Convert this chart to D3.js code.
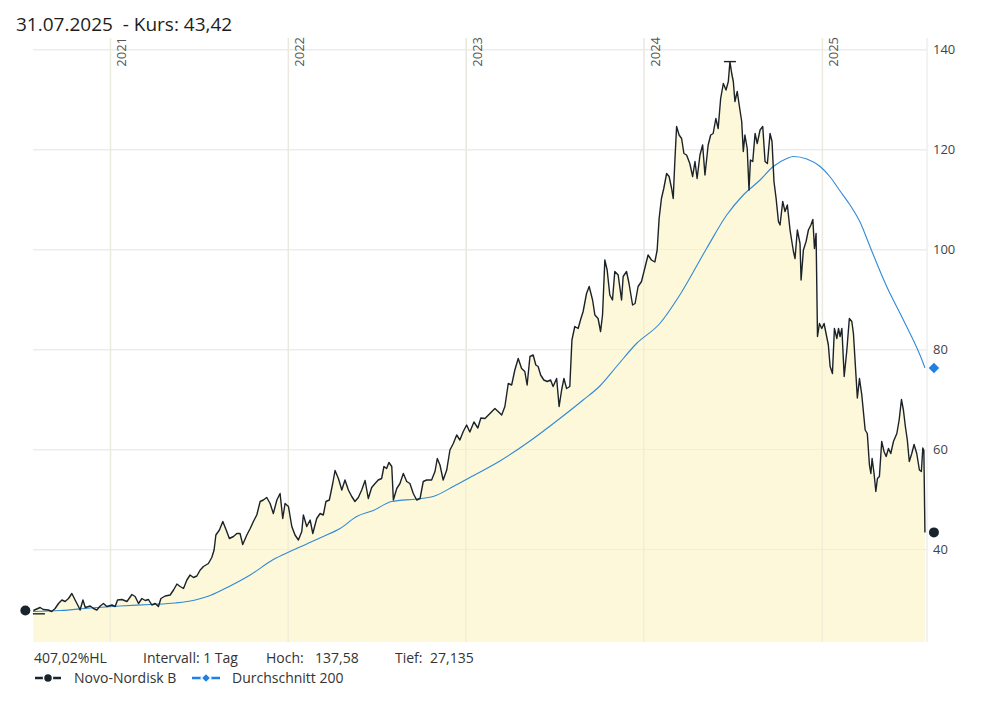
<!DOCTYPE html>
<html><head><meta charset="utf-8">
<script src="https://cdn.jsdelivr.net/npm/d3@7"></script>
<style>
body{margin:0;background:#fff}
svg text{font-family:"Open Sans","Noto Sans",sans-serif}
</style></head>
<body><svg id="c" width="999" height="701"></svg>
<script>
// ---- data (dates as decimal years) ----
const priceT = [2020.569,2020.607,2020.625,2020.653,2020.672,2020.691,2020.710,2020.729,2020.747,2020.766,2020.785,2020.803,2020.822,2020.831,2020.847,2020.860,2020.888,2020.906,2020.925,2020.944,2020.962,2020.981,2021.010,2021.028,2021.041,2021.066,2021.094,2021.122,2021.140,2021.159,2021.178,2021.197,2021.215,2021.234,2021.253,2021.271,2021.285,2021.309,2021.337,2021.356,2021.375,2021.393,2021.412,2021.431,2021.449,2021.468,2021.487,2021.506,2021.524,2021.552,2021.571,2021.584,2021.594,2021.614,2021.633,2021.652,2021.670,2021.693,2021.712,2021.730,2021.745,2021.768,2021.787,2021.805,2021.824,2021.843,2021.861,2021.880,2021.899,2021.917,2021.937,2021.955,2021.970,2021.983,2022.002,2022.021,2022.039,2022.058,2022.077,2022.086,2022.105,2022.124,2022.139,2022.161,2022.180,2022.198,2022.213,2022.232,2022.251,2022.264,2022.283,2022.302,2022.320,2022.339,2022.358,2022.376,2022.395,2022.414,2022.433,2022.451,2022.470,2022.489,2022.507,2022.526,2022.539,2022.554,2022.567,2022.583,2022.592,2022.611,2022.629,2022.648,2022.667,2022.685,2022.704,2022.723,2022.742,2022.760,2022.779,2022.807,2022.826,2022.839,2022.854,2022.872,2022.892,2022.910,2022.929,2022.948,2022.966,2022.985,2023.004,2023.022,2023.045,2023.067,2023.084,2023.107,2023.135,2023.163,2023.181,2023.201,2023.219,2023.238,2023.257,2023.275,2023.294,2023.313,2023.331,2023.344,2023.360,2023.378,2023.393,2023.406,2023.420,2023.438,2023.457,2023.476,2023.490,2023.510,2023.524,2023.538,2023.551,2023.566,2023.584,2023.596,2023.612,2023.631,2023.644,2023.659,2023.678,2023.693,2023.712,2023.725,2023.743,2023.757,2023.768,2023.781,2023.794,2023.809,2023.824,2023.837,2023.856,2023.875,2023.884,2023.903,2023.917,2023.937,2023.951,2023.968,2023.987,2024.006,2024.024,2024.043,2024.062,2024.075,2024.086,2024.099,2024.112,2024.128,2024.142,2024.156,2024.165,2024.174,2024.184,2024.198,2024.212,2024.225,2024.240,2024.258,2024.274,2024.287,2024.299,2024.315,2024.330,2024.343,2024.361,2024.375,2024.389,2024.404,2024.417,2024.431,2024.446,2024.461,2024.474,2024.483,2024.493,2024.502,2024.511,2024.524,2024.535,2024.549,2024.558,2024.567,2024.580,2024.590,2024.598,2024.611,2024.624,2024.636,2024.652,2024.667,2024.680,2024.693,2024.708,2024.719,2024.730,2024.742,2024.755,2024.764,2024.779,2024.792,2024.805,2024.820,2024.839,2024.848,2024.861,2024.876,2024.882,2024.895,2024.910,2024.923,2024.937,2024.948,2024.957,2024.966,2024.974,2024.985,2024.998,2025.011,2025.022,2025.035,2025.045,2025.058,2025.069,2025.083,2025.092,2025.101,2025.111,2025.124,2025.139,2025.153,2025.167,2025.176,2025.185,2025.198,2025.210,2025.223,2025.242,2025.254,2025.266,2025.274,2025.281,2025.292,2025.302,2025.311,2025.322,2025.335,2025.348,2025.360,2025.373,2025.386,2025.401,2025.420,2025.433,2025.446,2025.457,2025.468,2025.479,2025.490,2025.504,2025.517,2025.532,2025.547,2025.558,2025.566,2025.572,2025.578];
const priceV = [27.8,28.4,28.0,27.9,27.6,28.2,29.2,29.9,29.6,30.2,31.2,29.9,28.6,27.9,29.9,28.4,28.7,28.2,27.9,28.7,29.2,28.6,28.9,28.6,29.9,30.0,29.6,31.0,30.6,29.2,30.2,29.8,30.0,28.9,29.2,28.6,30.2,30.7,30.9,31.9,33.1,32.6,32.2,33.9,34.9,34.4,34.7,35.9,36.6,37.2,38.4,39.9,42.9,43.9,45.6,43.9,42.2,42.6,43.2,43.2,41.0,42.9,44.2,45.6,46.9,49.6,49.9,50.4,49.2,47.2,49.9,51.2,46.2,49.2,48.6,44.6,42.9,41.9,43.6,46.9,44.6,45.9,43.2,46.2,47.2,46.9,49.6,49.9,53.2,55.8,54.2,51.9,53.9,51.9,50.6,49.6,50.4,51.9,53.8,50.2,52.4,53.2,53.9,54.2,56.6,56.2,57.4,56.6,49.9,52.2,53.2,55.2,53.6,53.2,51.2,49.9,50.2,53.6,53.9,53.9,55.6,58.2,56.9,53.9,55.9,59.9,61.2,62.9,61.9,63.6,64.9,63.5,65.5,64.3,66.3,66.2,67.2,68.2,67.6,66.9,68.6,73.2,72.9,75.9,78.2,76.2,75.6,72.9,78.6,78.9,76.9,76.6,74.9,73.9,73.6,73.9,72.6,74.2,68.6,71.9,74.2,72.2,72.6,81.9,84.6,84.2,85.9,87.6,91.2,92.6,89.9,86.9,86.2,83.6,86.9,97.9,95.9,90.9,89.9,95.6,94.9,89.9,94.6,95.6,93.2,88.9,89.2,92.6,93.6,96.3,98.9,97.9,97.5,99.9,106.2,110.2,112.2,115.2,114.6,112.2,110.2,117.6,124.6,122.9,122.2,119.2,118.9,117.2,114.6,117.6,114.2,118.9,120.9,114.9,120.9,122.9,123.2,126.2,124.2,130.2,133.2,131.9,133.6,137.58,135.2,133.6,129.6,131.6,128.9,125.6,119.6,122.9,120.2,111.9,117.9,117.6,123.2,121.2,123.9,124.6,117.6,117.2,123.2,121.6,113.6,110.2,105.6,104.9,109.6,107.6,108.9,103.9,99.6,98.2,103.9,101.2,93.9,99.9,101.6,103.9,104.9,106.0,100.2,103.2,82.6,85.2,84.2,85.2,83.2,80.9,76.6,75.2,84.2,82.2,84.2,82.6,84.2,74.6,79.9,86.2,85.6,83.2,77.9,70.3,74.2,70.9,63.9,63.2,56.9,55.2,58.2,55.2,51.6,54.2,54.6,61.6,59.6,58.6,60.2,59.2,61.6,63.2,65.9,70.0,67.9,64.6,61.9,57.6,59.2,61.0,59.2,55.9,55.6,60.3,59.8,43.42];

const maT = [2020.567,2020.719,2020.888,2021.056,2021.225,2021.365,2021.478,2021.562,2021.674,2021.787,2021.917,2022.011,2022.105,2022.198,2022.292,2022.386,2022.479,2022.583,2022.723,2022.816,2022.929,2023.022,2023.191,2023.360,2023.528,2023.659,2023.753,2023.847,2023.959,2024.090,2024.202,2024.352,2024.465,2024.558,2024.652,2024.726,2024.802,2024.839,2024.914,2024.989,2025.045,2025.101,2025.157,2025.213,2025.270,2025.363,2025.457,2025.569,2025.578];
const maV = [27.6,27.8,28.3,28.7,29.0,29.3,29.9,30.8,32.7,34.9,38.0,39.6,41.1,42.6,44.2,46.6,47.8,49.6,50.1,50.6,52.6,54.4,57.7,61.7,66.2,69.9,72.7,76.6,81.2,85.2,90.9,100.2,106.9,110.9,113.9,116.6,118.2,118.6,118.1,116.6,114.5,111.7,108.9,105.5,100.5,92.6,85.9,77.2,76.3];

const yearTicks = [2021, 2022, 2023, 2024, 2025];
const yearLabels = ["2021", "2022", "2023", "2024", "2025"];
const valueTicks = [40, 60, 80, 100, 120, 140];
const domainT = [2020.567, 2025.584];
const domainV = [21.5, 142.5];
const hiValue = 137.58, hiT = 2024.483;
const loValue = 27.135, loT = 2020.600;
const titleText = "31.07.2025  - Kurs: 43,42";
const infoTexts = ["407,02%HL", "Intervall: 1 Tag", "Hoch:", "137,58", "Tief:", "27,135"];
const legendNames = ["Novo-Nordisk B", "Durchschnitt 200"];

// ---- helpers ----
function toDate(t){
  const y = Math.floor(t);
  const a = Date.UTC(y,0,1), b = Date.UTC(y+1,0,1);
  return new Date(a + (t - y) * (b - a));
}
const price = priceT.map((t,i)=>({d:toDate(t), v:priceV[i]}));
const ma = maT.map((t,i)=>({d:toDate(t), v:maV[i]}));

const L = 33, R = 926, T = 38, B = 642;
const x = d3.scaleTime().domain(domainT.map(toDate)).range([L, R]);
const y = d3.scaleLinear().domain(domainV).range([B, 37]);

const svg = d3.select("#c");

// vertical year grid
const gx = svg.append("g").attr("transform", `translate(0,${T})`)
  .call(d3.axisTop(x).tickValues(yearTicks.map(toDate)).tickSize(-(B - T)).tickFormat(""));
gx.select(".domain").remove();
gx.selectAll("line").attr("stroke", "#e8e8e8");

// horizontal grid + right axis
const gy = svg.append("g").attr("transform", `translate(${R + 1},0)`)
  .call(d3.axisRight(y).tickValues(valueTicks).tickSize(-(R + 1 - L)).tickPadding(6));
gy.select(".domain").attr("stroke", "#e6e6e6").attr("d", `M0,${T}V${B}`);
gy.selectAll("line").attr("stroke", "#ececec");
gy.selectAll("text").attr("x", 6).attr("fill", "#444").style("font-size", "13px");

// area
svg.append("path").datum(price)
  .attr("fill", "#fdf8d9")
  .attr("d", d3.area().x(d=>x(d.d)).y0(B).y1(d=>y(d.v)));

// gridlines over the fill (faint)
svg.append("g").selectAll("line").data(yearTicks).join("line")
  .attr("x1", d=>x(toDate(d))).attr("x2", d=>x(toDate(d)))
  .attr("y1", T).attr("y2", B).attr("stroke", "#ece9d6").attr("stroke-width", 1);
svg.append("g").selectAll("line").data(valueTicks).join("line")
  .attr("x1", L).attr("x2", R).attr("y1", d=>y(d)).attr("y2", d=>y(d))
  .attr("stroke", "#ede9d4").attr("stroke-opacity", 0.6);

// year labels
svg.append("g").selectAll("text").data(yearTicks).join("text")
  .attr("transform", d=>`translate(${x(toDate(d)) + 16},${T - 1}) rotate(-90)`)
  .attr("text-anchor", "end").attr("fill", "#555").style("font-size", "13px")
  .text((d,i)=>yearLabels[i]);

// MA line
svg.append("path").datum(ma)
  .attr("fill", "none").attr("stroke", "#3189d6").attr("stroke-width", 1.1)
  .attr("d", d3.line().x(d=>x(d.d)).y(d=>y(d.v)).curve(d3.curveMonotoneX));

// price line
svg.append("path").datum(price)
  .attr("fill", "none").attr("stroke", "#1b2328").attr("stroke-width", 1.4)
  .attr("stroke-linejoin", "round")
  .attr("d", d3.line().x(d=>x(d.d)).y(d=>y(d.v)));

// high / low markers
[[hiT, hiValue], [loT, loValue]].forEach(([t, v])=>{
  const cx = x(toDate(t));
  svg.append("line").attr("x1", cx - 6).attr("x2", cx + 6)
    .attr("y1", y(v)).attr("y2", y(v)).attr("stroke", "#1b2328").attr("stroke-width", 1.4);
});

// end markers
const first = price[0], last = price[price.length - 1], maLast = ma[ma.length - 1];
svg.append("circle").attr("cx", x(first.d) - 8).attr("cy", y(first.v)).attr("r", 5).attr("fill", "#19242c");
svg.append("circle").attr("cx", x(last.d) + 9).attr("cy", y(last.v)).attr("r", 5).attr("fill", "#19242c");
svg.append("path").attr("transform", `translate(${x(maLast.d) + 9},${y(maLast.v)})`)
  .attr("d", d3.symbol(d3.symbolDiamond2, 70)).attr("fill", "#1f7fe3");

// title
svg.append("text").attr("x", 16).attr("y", 31).attr("fill", "#1d1d1d")
  .style("font-size", "19px").style("white-space", "pre").attr("xml:space", "preserve").text(titleText);

// info line
const infoX = [34, 143, 266, 315, 395, 430];
svg.append("g").selectAll("text").data(infoTexts).join("text")
  .attr("x", (d,i)=>infoX[i]).attr("y", 663).attr("fill", "#333").style("font-size", "14px")
  .text(d=>d);

// legend
const lg = svg.append("g");
lg.append("line").attr("x1", 35).attr("x2", 61).attr("y1", 678).attr("y2", 678).attr("stroke", "#19242c").attr("stroke-width", 2.5);
lg.append("circle").attr("cx", 48).attr("cy", 678).attr("r", 4.5).attr("fill", "#19242c").attr("stroke", "#fff").attr("stroke-width", 1.5);
lg.append("text").attr("x", 74).attr("y", 683).attr("fill", "#333").style("font-size", "14px").text(legendNames[0]);
lg.append("line").attr("x1", 192).attr("x2", 220).attr("y1", 678).attr("y2", 678).attr("stroke", "#1f7fe3").attr("stroke-width", 2.5);
lg.append("path").attr("transform", "translate(206,678)").attr("d", d3.symbol(d3.symbolDiamond2, 60))
  .attr("fill", "#1f7fe3").attr("stroke", "#fff").attr("stroke-width", 1.5);
lg.append("text").attr("x", 232).attr("y", 683).attr("fill", "#333").style("font-size", "14px").text(legendNames[1]);
</script></body></html>
